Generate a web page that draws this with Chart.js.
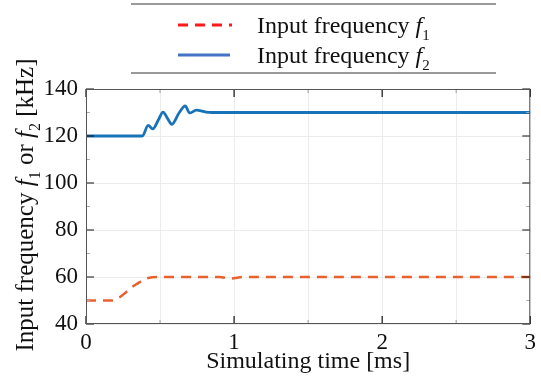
<!DOCTYPE html>
<html>
<head>
<meta charset="utf-8">
<script src="https://cdn.jsdelivr.net/npm/chart.js@4/dist/chart.umd.min.js"></script>
<style>
  body { margin: 0; background: #fff; }
</style>
</head>
<body>
<canvas id="freq-chart" width="541" height="376"></canvas>
<script>
// ------------- data ------------- //

var timeF1 = [0, 0.18, 0.23, 0.27, 0.31, 0.35, 0.38, 0.42, 0.5, 0.9, 0.98, 1.06, 3]
var freqF1 = [50, 50, 51.5, 53.5, 55.7, 57.3, 58.5, 59.6, 60, 60, 59.4, 60, 60]

var timeF2 = [0, 0.38, 0.42, 0.45, 0.49, 0.52, 0.55, 0.58, 0.63, 0.67, 0.70, 0.745, 0.81, 0.85, 3]
var freqF2 = [120, 120, 124.5, 123, 127, 130.2, 127.5, 125, 130, 132.8, 129.8, 131, 130.2, 130, 130]

var xTicks = [0, 1, 2, 3]
var yTicks = [40, 60, 80, 100, 120, 140]

var serif = "'Liberation Serif', 'Times New Roman', serif"

function toPoints(xs, ys) {
    return xs.map(function (x, i) { return { x: x, y: ys[i] } })
}

// legend + y title with italic f and subscripts
function drawRich(ctx, parts, x, y, size) {
    var cx = x
    parts.forEach(function (p) {
        var s = p.sub ? Math.round(size * 0.62) : size
        ctx.font = (p.it ? "italic " : "") + s + "px " + serif
        ctx.fillText(p.t, cx, y + (p.sub ? size * 0.28 : 0))
        cx += ctx.measureText(p.t).width
    })
    return cx - x
}

function richWidth(ctx, parts, size) {
    var w = 0
    parts.forEach(function (p) {
        var s = p.sub ? Math.round(size * 0.62) : size
        ctx.font = (p.it ? "italic " : "") + s + "px " + serif
        w += ctx.measureText(p.t).width
    })
    return w
}

var decorPlugin = {
    id: "decor",
    afterDraw: function (chart) {
        var ctx = chart.ctx
        var a = chart.chartArea
        var xs = chart.scales.x, ys = chart.scales.y
        ctx.save()

        // inward tick marks
        ctx.lineWidth = 1.2
        for (var t = 0; t <= 3.001; t += 0.5) {
            var px = xs.getPixelForValue(t)
            var major = xTicks.indexOf(t) >= 0
            ctx.strokeStyle = major ? "#111" : "#aaa"
            var len = major ? 8 : 4
            ctx.beginPath()
            ctx.moveTo(px, a.bottom); ctx.lineTo(px, a.bottom - len)
            ctx.moveTo(px, a.top); ctx.lineTo(px, a.top + len)
            ctx.stroke()
        }
        for (var v = 40; v <= 140; v += 10) {
            var py = ys.getPixelForValue(v)
            var majorY = yTicks.indexOf(v) >= 0
            ctx.strokeStyle = majorY ? "#111" : "#aaa"
            var lenY = majorY ? 8 : 4
            ctx.beginPath()
            ctx.moveTo(a.left, py); ctx.lineTo(a.left + lenY, py)
            ctx.moveTo(a.right, py); ctx.lineTo(a.right - lenY, py)
            ctx.stroke()
        }

        // frame
        ctx.strokeStyle = "#555"
        ctx.lineWidth = 1
        ctx.strokeRect(a.left + 0.5, a.top + 0.5, a.right - a.left - 1, a.bottom - a.top - 1)

        // legend box lines
        ctx.strokeStyle = "#7a7a7a"
        ctx.lineWidth = 1.5
        ctx.beginPath()
        ctx.moveTo(131, 4); ctx.lineTo(496, 4)
        ctx.moveTo(131, 73); ctx.lineTo(496, 73)
        ctx.stroke()

        // legend samples
        var ds = chart.data.datasets
        ctx.lineWidth = 2.8
        ctx.strokeStyle = ds[0].legendColor
        ctx.setLineDash([10, 7])
        ctx.beginPath(); ctx.moveTo(178, 25); ctx.lineTo(232, 25); ctx.stroke()
        ctx.setLineDash([])
        ctx.strokeStyle = ds[1].legendColor
        ctx.beginPath(); ctx.moveTo(178, 55); ctx.lineTo(230, 55); ctx.stroke()

        ctx.fillStyle = "#111"
        ctx.textBaseline = "alphabetic"
        ctx.textAlign = "left"
        drawRich(ctx, [{ t: "Input frequency " }, { t: "f", it: true }, { t: "1", sub: true }], 257, 33, 24)
        drawRich(ctx, [{ t: "Input frequency " }, { t: "f", it: true }, { t: "2", sub: true }], 257, 63, 24)

        // y axis title
        var ytitle = [{ t: "Input frequency " }, { t: "f", it: true }, { t: "1", sub: true },
            { t: " or " }, { t: "f", it: true }, { t: "2", sub: true }, { t: " [kHz]" }]
        var w = richWidth(ctx, ytitle, 25)
        ctx.translate(33, 205)
        ctx.rotate(-Math.PI / 2)
        drawRich(ctx, ytitle, -w / 2, 0, 25)
        ctx.restore()
    }
}

var freqChart = new Chart("freq-chart", {
    type: "line",
    data: {
        datasets: [{
            label: "Input frequency f1",
            data: toPoints(timeF1, freqF1),
            borderColor: "#e8612c",
            legendColor: "#ff1a1a",
            borderDash: [10, 7],
            borderWidth: 2.5,
            pointRadius: 0,
            cubicInterpolationMode: "monotone",
            fill: false
        }, {
            label: "Input frequency f2",
            data: toPoints(timeF2, freqF2),
            borderColor: "#1872b8",
            legendColor: "#4472c4",
            borderWidth: 2.8,
            pointRadius: 0,
            cubicInterpolationMode: "monotone",
            fill: false
        }]
    },
    options: {
        responsive: false,
        devicePixelRatio: 1,
        animation: false,
        layout: { padding: { top: 89, right: 8, left: 0, bottom: 0 } },
        plugins: {
            legend: { display: false },
            tooltip: { enabled: false }
        },
        scales: {
            x: {
                type: "linear",
                min: 0,
                max: 3,
                afterFit: function (s) { s.height = 52 },
                grid: { color: "#ececec", drawTicks: false },
                border: { display: false },
                ticks: {
                    stepSize: 0.5,
                    padding: 5,
                    color: "#111",
                    font: { family: serif, size: 23 },
                    maxRotation: 0,
                    callback: function (v) { return xTicks.indexOf(v) >= 0 ? String(v) : "" }
                },
                title: {
                    display: true,
                    text: "Simulating time [ms]",
                    color: "#111",
                    font: { family: serif, size: 24 },
                    padding: { top: 0, bottom: 0 }
                }
            },
            y: {
                min: 40,
                max: 140,
                afterFit: function (s) { s.width = 86 },
                grid: { color: "#ececec", drawTicks: false },
                border: { display: false },
                ticks: {
                    stepSize: 10,
                    padding: 8,
                    color: "#111",
                    font: { family: serif, size: 23 },
                    callback: function (v) { return yTicks.indexOf(v) >= 0 ? String(v) : "" }
                }
            }
        }
    },
    plugins: [decorPlugin]
});
</script>
</body>
</html>
